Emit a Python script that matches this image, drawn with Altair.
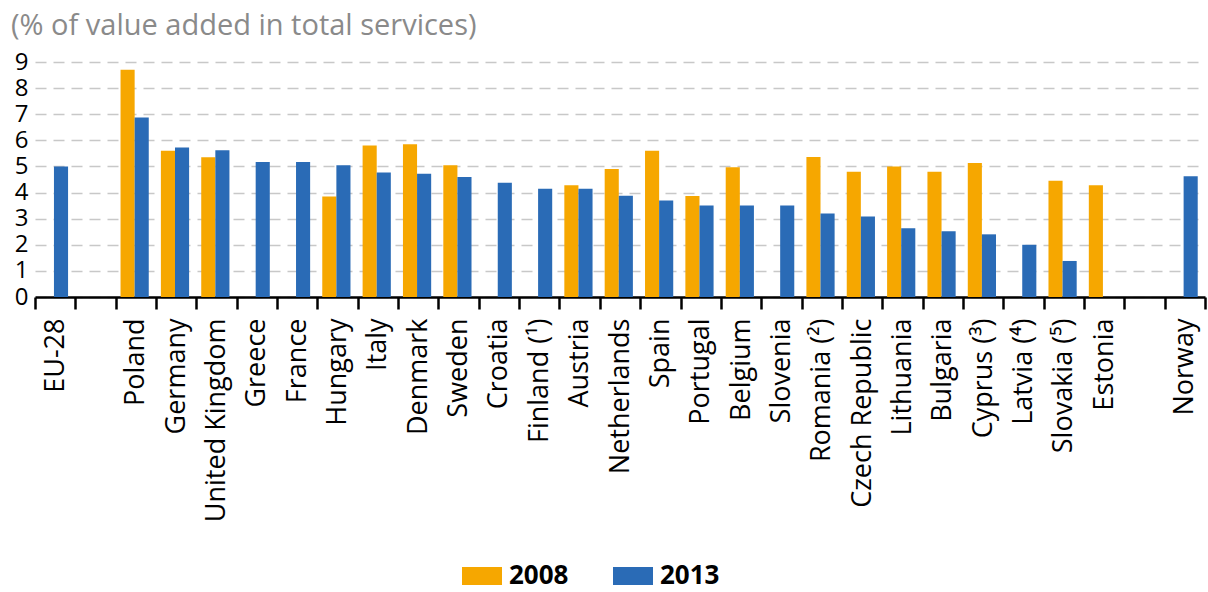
import altair as alt
import pandas as pd

countries = ["EU-28", " ", "Poland", "Germany", "United Kingdom", "Greece", "France",
             "Hungary", "Italy", "Denmark", "Sweden", "Croatia", "Finland (¹)", "Austria",
             "Netherlands", "Spain", "Portugal", "Belgium", "Slovenia", "Romania (²)",
             "Czech Republic", "Lithuania", "Bulgaria", "Cyprus (³)", "Latvia (⁴)",
             "Slovakia (⁵)", "Estonia", "  ", "Norway"]

v2008 = [None, None, 8.7, 5.6, 5.35, None, None,
         3.85, 5.8, 5.85, 5.05, None, None, 4.28,
         4.9, 5.6, 3.87, 4.97, None, 5.36,
         4.8, 5.0, 4.8, 5.13, None,
         4.45, 4.28, None, None]

v2013 = [5.0, None, 6.87, 5.73, 5.62, 5.17, 5.17,
         5.05, 4.77, 4.72, 4.6, 4.38, 4.15, 4.15,
         3.88, 3.7, 3.5, 3.5, 3.5, 3.2,
         3.08, 2.63, 2.52, 2.4, 2.0,
         1.38, None, None, 4.62]

years = ["2008", "2013"]
colors = ["#F6A700", "#2A6BB6"]

rows = []
for c, a, b in zip(countries, v2008, v2013):
    if a is not None:
        rows.append({"country": c, "year": "2008", "value": a})
    if b is not None:
        rows.append({"country": c, "year": "2013", "value": b})
df = pd.DataFrame(rows)

FONT = "Open Sans"

chart = alt.Chart(df).mark_bar().encode(
    x=alt.X("country:N",
            scale=alt.Scale(domain=countries, paddingInner=0, paddingOuter=0),
            axis=alt.Axis(title=None, labelAngle=270, labelAlign="right", labelBaseline="middle",
                          labelFont=FONT, labelFontSize=27, labelColor="#000000",
                          labelPadding=9, tickSize=12, tickWidth=2.5, tickColor="#000000",
                          domainColor="#000000", domainWidth=2.5, tickBand="extent",
                          labelOverlap=False, labelLimit=400, grid=False)),
    xOffset=alt.XOffset("year:N", scale=alt.Scale(domain=years, paddingInner=0,
                                                  paddingOuter=0.43, align=0.4)),
    y=alt.Y("value:Q", scale=alt.Scale(domain=[0, 9], nice=False),
            axis=alt.Axis(title=None, values=list(range(10)), labelFont=FONT, labelFontSize=24,
                          labelColor="#000000", labelPadding=7, ticks=False, domain=False,
                          labelOverlap=False, labelBound=False,
                          grid=True, gridColor="#c8c8c8", gridWidth=1.5, gridDash=[11, 7])),
    color=alt.Color("year:N", scale=alt.Scale(domain=years, range=colors),
                    legend=alt.Legend(title=None, orient="none", direction="horizontal",
                                      legendX=427, legendY=494,
                                      symbolType="M-1,-0.45H1V0.45H-1Z", symbolSize=1600,
                                      symbolStrokeWidth=0, symbolOpacity=1,
                                      labelFont=FONT, labelFontSize=26, labelFontWeight="bold",
                                      labelColor="#000000", labelOffset=7, columnPadding=44)),
).properties(
    width=1170, height=235,
    title=alt.TitleParams("(% of value added in total services)", anchor="start", frame="group",
                          font=FONT, fontSize=29, fontWeight="normal", color="#8a8a8a",
                          dx=-24, offset=9),
    autosize=alt.AutoSizeParams(type="none"),
    padding={"left": 35, "top": 62, "right": 3, "bottom": 295},
).configure_view(stroke=None)

chart.save("out.html", embed_options={"renderer": "svg", "actions": False})
